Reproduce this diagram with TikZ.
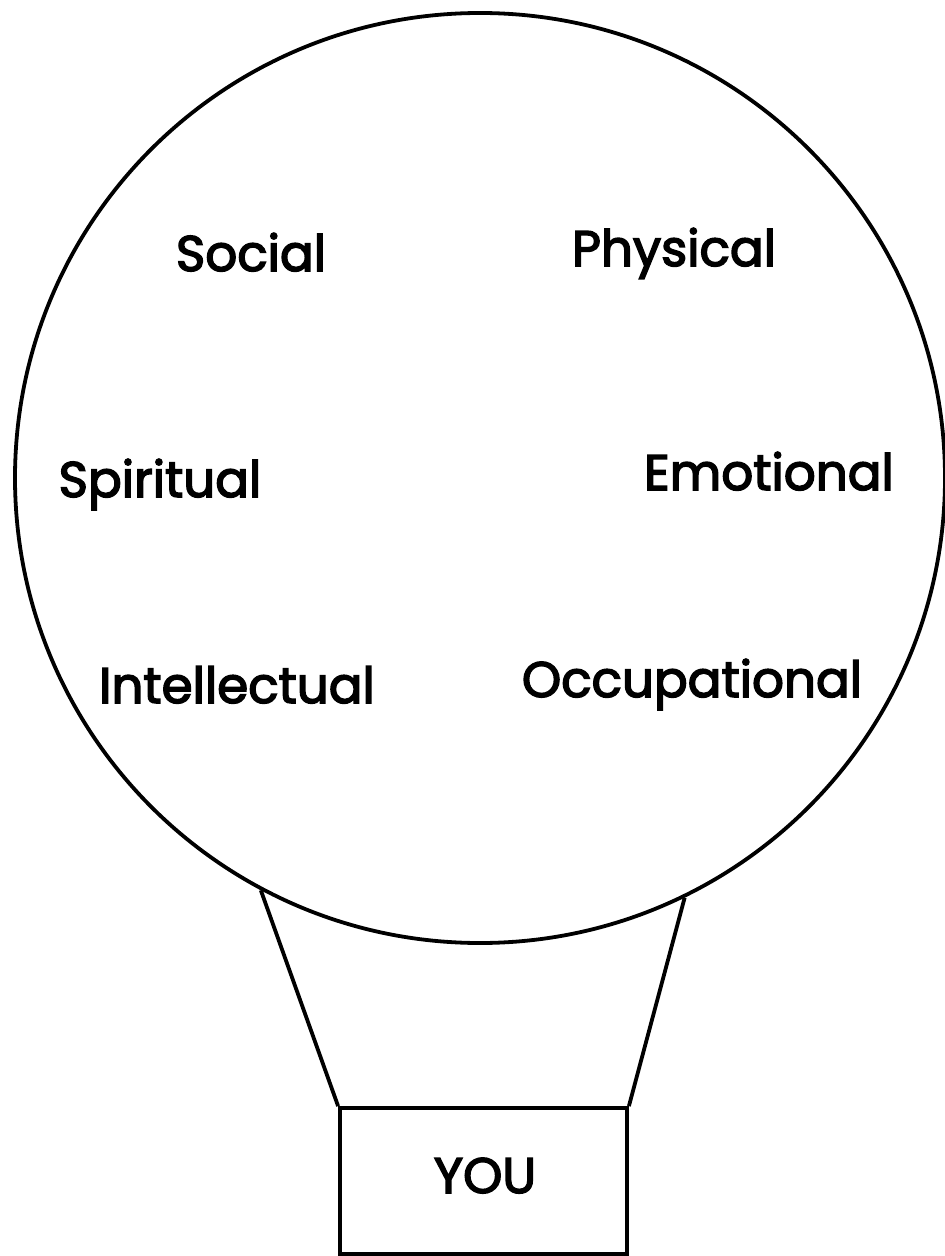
\documentclass[tikz,border=0pt]{standalone}
\usepackage{fontspec}
\newfontfamily\labfont{Poppins}[FakeBold=3]
\begin{document}
\begin{tikzpicture}[x=0.5pt,y=-0.5pt,
  outline/.style={draw=black,line width=1.9pt},
  label/.style={font=\fontsize{25}{30}\labfont,anchor=base,inner sep=0pt}]
\useasboundingbox (0,0) rectangle (945,1256);
\node[outline,circle,inner sep=0pt,minimum size=465pt] (balloon) at (480,478) {};
\node[outline,rectangle,inner sep=0pt,minimum width=143.5pt,minimum height=73pt] (you) at (483.5,1181) {};
\node[label] (youtext) at (485,1193) {YOU};
\coordinate (lj) at (balloon.242.8);
\coordinate (rj) at (balloon.296.9);
\draw[outline,line join=miter] (lj) -- (you.north west);
\draw[outline,line join=miter] (rj) -- (you.north east);
\node[label] (social) at (251,271) {Social};
\node[label] (physical) at (674,266) {Physical};
\node[label] (spiritual) at (160,497) {Spiritual};
\node[label] (emotional) at (769,490) {Emotional};
\node[label] (intellectual) at (237,703) {Intellectual};
\node[label] (occupational) at (692,697) {Occupational};
\end{tikzpicture}
\end{document}
